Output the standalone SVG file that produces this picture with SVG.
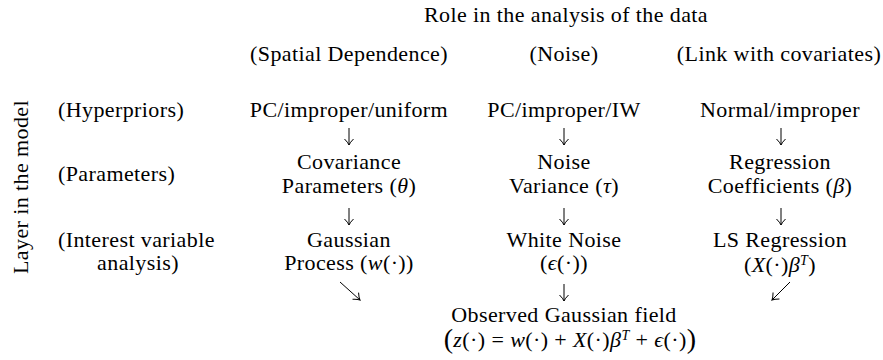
<svg xmlns="http://www.w3.org/2000/svg" width="883" height="360" viewBox="0 0 883 360">
<defs>
<style>
text { font-family: "Liberation Serif", "Times New Roman", "DejaVu Serif", serif; font-size: 22px; fill: #000; letter-spacing: 0.4px; }
.c { text-anchor: middle; }
.i { font-style: italic; }
.big { font-size: 28px; font-style: normal; }
.sup { font-size: 14px; font-style: italic; }
.arrow { stroke: #000; stroke-width: 1; fill: none; marker-end: url(#ah); }
</style>
<marker id="ah" markerUnits="userSpaceOnUse" markerWidth="12" markerHeight="12" viewBox="-7 -6 8 12" refX="0" refY="0" orient="auto">
<path d="M-6,-4.5 Q-2.5,-1 0,0 Q-2.5,1 -6,4.5" fill="none" stroke="#000" stroke-width="1"/>
</marker>
</defs>
<rect width="883" height="360" fill="#fff"/>
<g id="title"><text class="c" x="566" y="22">Role in the analysis of the data</text></g>
<g id="axis-label"><text class="c" transform="translate(28,187) rotate(-90)">Layer in the model</text></g>

<g id="header-spatial"><text class="c" x="349" y="61">(Spatial Dependence)</text></g>
<g id="header-noise"><text class="c" x="564" y="61">(Noise)</text></g>
<g id="header-link"><text class="c" x="779" y="61">(Link with covariates)</text></g>

<g id="row-hyperpriors"><text x="58" y="117">(Hyperpriors)</text></g>
<g id="row-parameters"><text x="58" y="181">(Parameters)</text></g>
<g id="row-interest"><text x="58" y="247">(Interest variable</text><text class="c" x="138" y="270">analysis)</text></g>

<g id="prior-spatial"><text class="c" x="349" y="117">PC/improper/uniform</text></g>
<g id="prior-noise"><text class="c" x="564" y="117">PC/improper/IW</text></g>
<g id="prior-link"><text class="c" x="780" y="117">Normal/improper</text></g>

<g id="param-spatial"><text class="c" x="349" y="169">Covariance</text><text class="c" x="349" y="193">Parameters (<tspan class="i">θ</tspan>)</text></g>
<g id="param-noise"><text class="c" x="564" y="169">Noise</text><text class="c" x="564" y="193">Variance (<tspan class="i">τ</tspan>)</text></g>
<g id="param-link"><text class="c" x="780" y="169">Regression</text><text class="c" x="780" y="193">Coefficients (<tspan class="i">β</tspan>)</text></g>

<g id="var-spatial"><text class="c" x="349" y="247">Gaussian</text><text class="c" x="349" y="270">Process (<tspan class="i">w</tspan>(·))</text></g>
<g id="var-noise"><text class="c" x="564" y="247">White Noise</text><text class="c" x="564" y="270">(<tspan class="i">ϵ</tspan>(·))</text></g>
<g id="var-link"><text class="c" x="780" y="247">LS Regression</text><text class="c" x="780" y="272">(<tspan class="i">X</tspan>(·)<tspan class="i">β</tspan><tspan class="sup" dy="-7">T</tspan><tspan dy="7">)</tspan></text></g>

<g id="observed"><text class="c" x="564" y="322">Observed Gaussian field</text><text class="c" x="570" y="347"><tspan class="big" dy="1">(</tspan><tspan class="i" dy="-1">z</tspan>(·) = <tspan class="i">w</tspan>(·) + <tspan class="i">X</tspan>(·)<tspan class="i">β</tspan><tspan class="sup" dy="-7">T</tspan><tspan dy="7"> + </tspan><tspan class="i">ϵ</tspan>(·)<tspan class="big" dy="1">)</tspan></text></g>

<g id="connectors">
<line class="arrow" x1="349" y1="128" x2="349" y2="145"/>
<line class="arrow" x1="564" y1="128" x2="564" y2="145"/>
<line class="arrow" x1="781" y1="128" x2="781" y2="145"/>
<line class="arrow" x1="349" y1="208" x2="349" y2="225"/>
<line class="arrow" x1="564" y1="208" x2="564" y2="225"/>
<line class="arrow" x1="781" y1="208" x2="781" y2="225"/>
<line class="arrow" x1="340" y1="282" x2="360" y2="300"/>
<line class="arrow" x1="564" y1="284" x2="564" y2="301"/>
<line class="arrow" x1="790" y1="282" x2="772" y2="300"/>
</g>
</svg>
